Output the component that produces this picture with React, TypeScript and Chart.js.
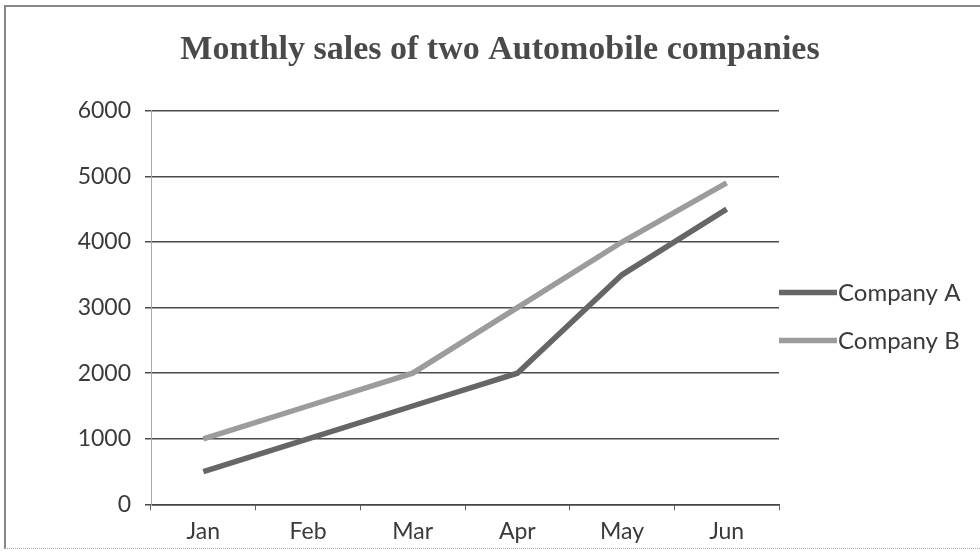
import React, { useEffect, useRef } from "react";
import { Chart, registerables } from "chart.js";

Chart.register(...registerables);

const months = ["Jan", "Feb", "Mar", "Apr", "May", "Jun"];
const companyA = [500, 1000, 1500, 2000, 3500, 4500];
const companyB = [1000, 1500, 2000, 3000, 4000, 4900];
const seriesNames = ["Company A", "Company B"];
const chartTitle = "Monthly sales of two Automobile companies";

const sideLegend = {
  id: "sideLegend",
  afterDraw(chart: any) {
    const { ctx, chartArea } = chart;
    const cy = (chartArea.top + chartArea.bottom) / 2 + 9;
    chart.data.datasets.forEach((ds: any, i: number) => {
      const y = cy + (i - 0.5) * 48;
      ctx.save();
      ctx.strokeStyle = ds.borderColor;
      ctx.lineWidth = ds.borderWidth;
      ctx.beginPath();
      ctx.moveTo(chartArea.right, y);
      ctx.lineTo(chartArea.right + 58, y);
      ctx.stroke();
      ctx.fillStyle = "#3a3a3a";
      ctx.font = "24px Lato, sans-serif";
      ctx.textBaseline = "middle";
      ctx.textAlign = "left";
      ctx.fillText(ds.label, chartArea.right + 59, y + 1);
      ctx.restore();
    });
  },
};

export default function App() {
  const ref = useRef<HTMLCanvasElement | null>(null);

  useEffect(() => {
    document.body.style.margin = "0";
    const canvas = ref.current;
    if (!canvas) return;
    const chart = new Chart(canvas, {
      type: "line",
      data: {
        labels: months,
        datasets: [
          {
            label: seriesNames[0],
            data: companyA,
            borderColor: "#666666",
            backgroundColor: "#666666",
            borderWidth: 5.5,
            pointRadius: 0,
            tension: 0,
          },
          {
            label: seriesNames[1],
            data: companyB,
            borderColor: "#9c9c9c",
            backgroundColor: "#9c9c9c",
            borderWidth: 5.5,
            pointRadius: 0,
            tension: 0,
          },
        ],
      },
      options: {
        animation: false,
        responsive: false,
        maintainAspectRatio: false,
        layout: { padding: { left: 20, right: 0, top: 22, bottom: 0 } },
        plugins: {
          title: {
            display: true,
            text: chartTitle,
            color: "#4a4a4a",
            font: { family: "'Liberation Serif', serif", size: 34, weight: "bold" },
            padding: { top: 8, bottom: 40 },
          },
          legend: { display: false },
          tooltip: { enabled: false },
        },
        scales: {
          x: {
            offset: true,
            grid: {
              display: true,
              drawOnChartArea: false,
              drawTicks: true,
              tickLength: 6,
              color: "#666",
              offset: true,
            },
            border: { display: true, color: "#444", width: 1.5 },
            ticks: {
              color: "#3a3a3a",
              padding: 7,
              font: { family: "Lato, sans-serif", size: 23 },
            },
          },
          y: {
            min: 0,
            max: 6000,
            ticks: {
              stepSize: 1000,
              color: "#3a3a3a",
              padding: 14,
              font: { family: "Lato, sans-serif", size: 23 },
              callback: (v: any) => String(v),
            },
            grid: { color: "#4a4a4a", lineWidth: 1.5, tickLength: 6 },
            border: { display: true, color: "#aaa", width: 1 },
            afterFit: (s: any) => {
              s.width = 131;
            },
          },
          legendSpace: {
            type: "linear",
            position: "right",
            display: true,
            grid: { display: false, drawTicks: false },
            border: { display: false },
            ticks: { display: false },
            afterFit: (s: any) => {
              s.width = 201;
            },
          },
        },
      },
      plugins: [sideLegend],
    } as any);
    return () => chart.destroy();
  }, []);

  return (
    <div style={{ position: "relative", width: 980, height: 552, overflow: "hidden", background: "#fff" }}>
      <div
        style={{
          position: "absolute",
          left: 4,
          top: 5,
          width: 1000,
          height: 541,
          borderLeft: "2px solid #888",
          borderTop: "2px solid #888",
          borderBottom: "1px dotted #aaa",
        }}
      />
      <canvas ref={ref} width={980} height={552} style={{ position: "absolute", left: 0, top: 0 }} />
    </div>
  );
}
